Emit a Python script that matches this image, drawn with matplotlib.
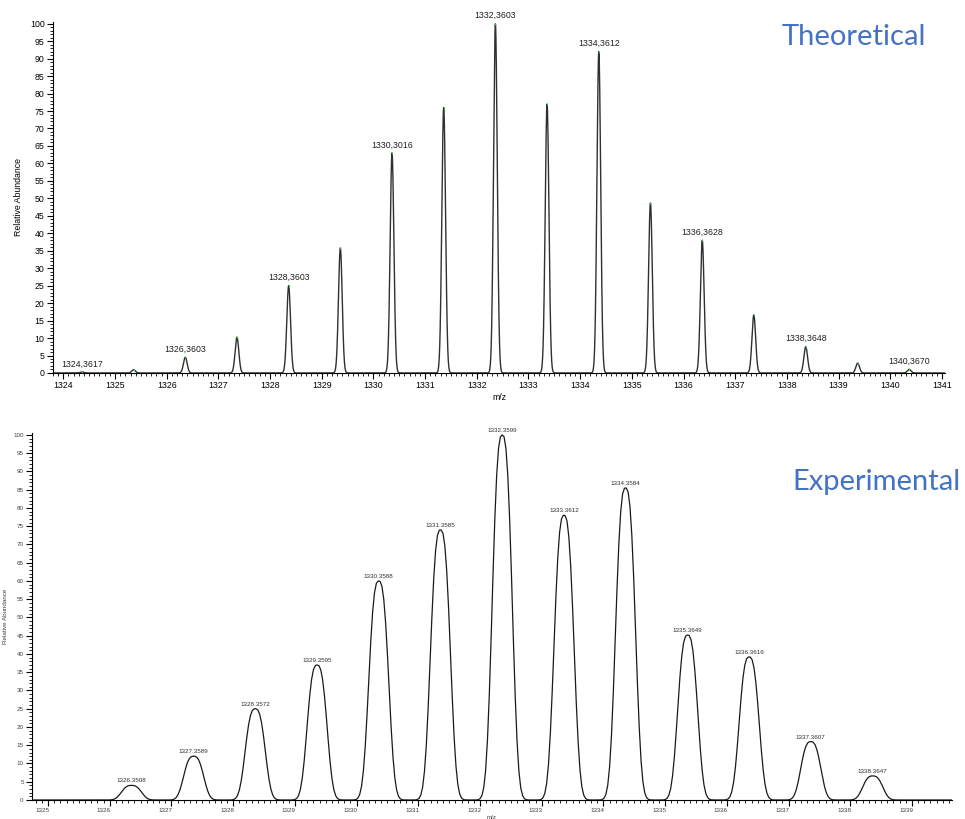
import numpy as np
import matplotlib.pyplot as plt
from matplotlib.ticker import MultipleLocator
from matplotlib.transforms import ScaledTranslation

# Theoretical isotope pattern (peak m/z, relative abundance, label)
theo_mz = [1324.3617, 1325.36, 1326.3603, 1327.36, 1328.3603, 1329.36, 1330.36,
           1331.36, 1332.3603, 1333.36, 1334.3612, 1335.36, 1336.3628, 1337.36,
           1338.3648, 1339.37, 1340.3670]
theo_int = [0.3, 0.9, 4.5, 10.2, 25, 35.8, 63, 76, 100, 77, 92, 48.7, 38, 16.6,
            7.5, 2.8, 1.0]
theo_labels = ["1324,3617", None, "1326,3603", None, "1328,3603", None, "1330,3016",
               None, "1332,3603", None, "1334,3612", None, "1336,3628", None,
               "1338,3648", None, "1340,3670"]

# Experimental spectrum
exp_mz = [1326.3508, 1327.3589, 1328.3572, 1329.3595, 1330.3588, 1331.3585,
          1332.3599, 1333.3612, 1334.3584, 1335.3649, 1336.3616, 1337.3607, 1338.3647]
exp_int = [4, 12, 25, 37, 60, 74, 100, 78, 85.5, 45.2, 39.2, 16, 6.6]
exp_labels = ["1326.3508", "1327.3589", "1328.3572", "1329.3595", "1330.3588",
              "1331.3585", "1332.3599", "1333.3612", "1334.3584", "1335.3649",
              "1336.3616", "1337.3607", "1338.3647"]

plt.rcParams['font.family'] = ['Liberation Sans', 'DejaVu Sans']

fig = plt.figure(figsize=(9.65, 8.19), dpi=100)

# ---------------- top: theoretical ----------------
ax1 = fig.add_axes([0.0549, 0.5446, 0.9244, 0.4286])
x1 = np.linspace(1323.8, 1341.06, 6000)
y1 = np.zeros_like(x1)
for c, h in zip(theo_mz, theo_int):
    y1 += h * np.exp(-0.5 * ((x1 - c) / 0.036) ** 2)
ax1.plot(x1, y1, color='#303030', lw=1.0)
ax1.plot(theo_mz, theo_int, ls='none', marker='|', ms=2, color='#3ccf3c', mew=0.7)
for c, h, lab in zip(theo_mz, theo_int, theo_labels):
    if lab:
        ax1.annotate(lab, (c, h), xytext=(0, 2.5), textcoords='offset points',
                     ha='center', va='bottom', fontsize=6.3, color='#202020')
ax1.set_xlim(1323.8, 1341.06)
ax1.set_ylim(0, 100.5)
ax1.xaxis.set_major_locator(MultipleLocator(1))
ax1.xaxis.set_minor_locator(MultipleLocator(0.1))
ax1.yaxis.set_major_locator(MultipleLocator(5))
ax1.yaxis.set_minor_locator(MultipleLocator(1))
ax1.tick_params(which='major', length=4, width=0.8, labelsize=6.3, pad=2)
ax1.tick_params(which='minor', length=2, width=0.6)
for s in ['top', 'right']:
    ax1.spines[s].set_visible(False)
ax1.set_xlabel("m/z", fontsize=6.3, labelpad=2)
ax1.set_ylabel("Relative Abundance", fontsize=6.3, labelpad=5)
fig.text(854 / 965, 1 - 37 / 819, "Theoretical", fontsize=21, color='#4472C4',
         family=['Lato', 'DejaVu Sans'], ha='center', va='center')

# ---------------- bottom: experimental ----------------
ax2 = fig.add_axes([0.0332, 0.0232, 0.9534, 0.448])
x2 = np.arange(1324.74, 1339.65, 0.03)
y2 = np.zeros_like(x2)
for c, h in zip(exp_mz, exp_int):
    y2 += h * np.exp(-np.log(2) * (np.abs(x2 - c) / 0.17) ** 2.8)
ax2.plot(x2, y2, color='#1a1a1a', lw=0.9)
for c, h, lab in zip(exp_mz, exp_int, exp_labels):
    ax2.annotate(lab, (c, h), xytext=(0, 1.5), textcoords='offset points',
                 ha='center', va='bottom', fontsize=4.5, color='#303030')
ax2.set_xlim(1324.74, 1339.65)
ax2.set_ylim(0, 100.5)
ax2.xaxis.set_major_locator(MultipleLocator(1))
ax2.xaxis.set_minor_locator(MultipleLocator(0.1))
ax2.yaxis.set_major_locator(MultipleLocator(5))
ax2.yaxis.set_minor_locator(MultipleLocator(1))
ax2.tick_params(which='major', length=4, width=0.8, labelsize=4.5, pad=2,
                labelcolor='#404040')
ax2.tick_params(which='minor', length=2, width=0.6)
for s in ['top', 'right']:
    ax2.spines[s].set_visible(False)
shift = ScaledTranslation(-6 / 100, 0, fig.dpi_scale_trans)
for lab in ax2.get_xticklabels():
    lab.set_transform(lab.get_transform() + shift)
ax2.set_xlabel("m/z", fontsize=4.5, labelpad=1, color='#404040')
ax2.set_ylabel("Relative Abundance", fontsize=4.5, labelpad=4, color='#404040')
fig.text(876 / 965, 1 - 482 / 819, "Experimental", fontsize=21, color='#4472C4',
         family=['Lato', 'DejaVu Sans'], ha='center', va='center')

fig.savefig("out.png", dpi=100)
